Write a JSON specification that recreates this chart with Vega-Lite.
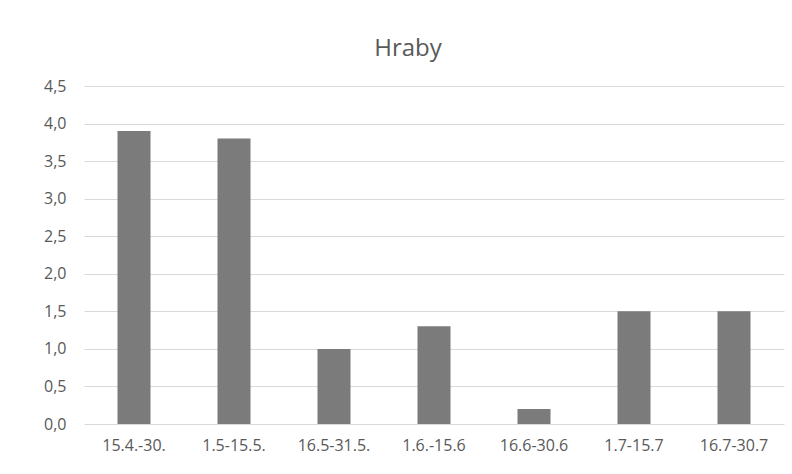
{
  "$schema": "https://vega.github.io/schema/vega-lite/v6.json",
  "width": 700,
  "height": 338,
  "autosize": {"type": "none"},
  "padding": {"left": 84, "top": 86, "right": 8, "bottom": 50},
  "background": "white",
  "title": {
    "text": "Hraby",
    "fontSize": 24,
    "font": "Open Sans",
    "fontWeight": "normal",
    "color": "#595959",
    "anchor": "middle",
    "dx": -26,
    "offset": 17
  },
  "data": {
    "values": [
      {"obdobi": "15.4.-30.", "hodnota": 3.9},
      {"obdobi": "1.5-15.5.", "hodnota": 3.8},
      {"obdobi": "16.5-31.5.", "hodnota": 1.0},
      {"obdobi": "1.6.-15.6", "hodnota": 1.3},
      {"obdobi": "16.6-30.6", "hodnota": 0.2},
      {"obdobi": "1.7-15.7", "hodnota": 1.5},
      {"obdobi": "16.7-30.7", "hodnota": 1.5}
    ]
  },
  "mark": {"type": "bar", "color": "#7b7b7b"},
  "encoding": {
    "x": {
      "field": "obdobi",
      "type": "nominal",
      "sort": null,
      "scale": {"paddingInner": 0.67, "paddingOuter": 0.335},
      "axis": {
        "title": null,
        "labelAngle": 0,
        "labelFont": "Open Sans",
        "labelFontSize": 16,
        "labelColor": "#595959",
        "ticks": false,
        "domain": false,
        "labelPadding": 13
      }
    },
    "y": {
      "field": "hodnota",
      "type": "quantitative",
      "scale": {"domain": [0, 4.5]},
      "axis": {
        "title": null,
        "values": [0, 0.5, 1, 1.5, 2, 2.5, 3, 3.5, 4, 4.5],
        "labelExpr": "replace(format(datum.value, '.1f'), '.', ',')",
        "labelFont": "Open Sans",
        "labelFontSize": 16,
        "labelColor": "#595959",
        "ticks": false,
        "domain": false,
        "labelPadding": 18,
        "gridColor": "#d9d9d9"
      }
    }
  },
  "config": {"view": {"stroke": null}}
}
